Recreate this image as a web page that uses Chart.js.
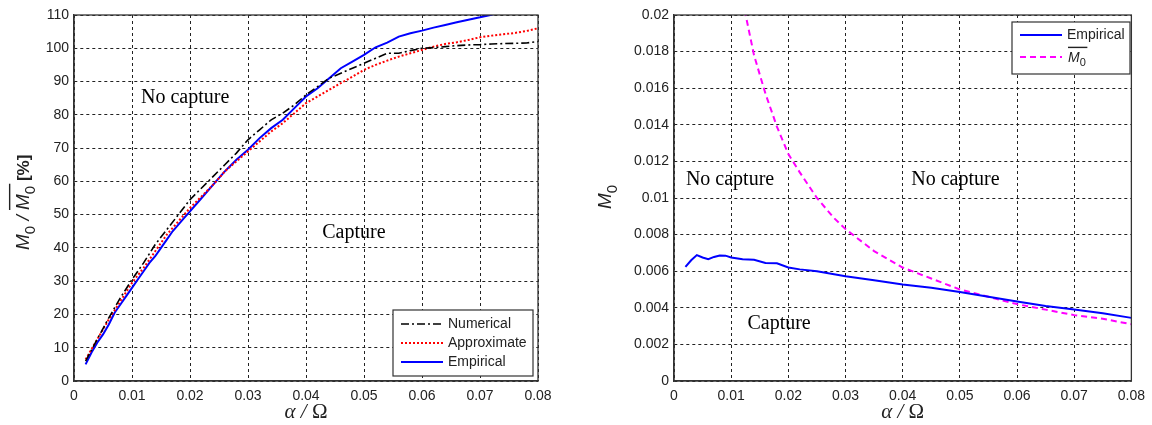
<!DOCTYPE html>
<html><head><meta charset="utf-8">
<script src="https://cdn.jsdelivr.net/npm/chart.js@4"></script>
<style>
html,body{margin:0;padding:0;background:#fff;}
#wrap{position:relative;width:1152px;height:425px;}
#c1{position:absolute;left:0;top:0;}
#c2{position:absolute;left:560px;top:0;}
</style></head>
<body><div id="wrap"><canvas id="c1" width="560" height="425"></canvas><canvas id="c2" width="592" height="425"></canvas></div>
<script>
// ---- data (left panel: M0 / M0bar [%]) ----
const alphaNum = [0.002,0.004,0.006,0.008,0.010,0.012,0.014,0.016,0.018,0.020,0.022,0.024,0.026,0.028,0.030,0.032,0.034,0.036,0.038,0.040,0.042,0.044,0.046,0.048,0.050,0.052,0.054,0.056,0.058,0.060,0.062,0.064,0.066,0.068,0.070,0.072,0.074,0.076,0.078,0.080];
const numerical = [6,12.5,19,25,30.5,35.5,41,45.5,50,54.5,58,61.5,65,68.5,72.5,75.5,78.5,80.5,83,86,88.5,91,92.5,94,95.5,97,98.5,98.5,99.3,100,100.2,100.5,100.8,101,101.1,101.3,101.4,101.5,101.6,102];
const approximate = [6.5,12.5,18.5,24,29.5,34,39,44,48,52,55.5,59,63,66,69,72,75,77.5,80.5,83.5,85.5,87.5,89.5,91.5,93.5,95,96.3,97.5,98.5,99.5,100.5,101.3,101.8,102.5,103.3,103.8,104.2,104.6,105.2,106];
const alphaEmp = [0.002,0.003,0.004,0.005,0.006,0.007,0.008,0.009,0.010,0.011,0.012,0.013,0.014,0.015,0.016,0.017,0.018,0.019,0.020,0.022,0.024,0.026,0.028,0.030,0.032,0.034,0.036,0.038,0.040,0.042,0.044,0.046,0.048,0.050,0.052,0.054,0.056,0.058,0.060,0.062,0.064,0.066,0.068,0.070,0.072,0.074,0.076,0.078,0.080];
const empiricalPct = [5,8.5,11.5,14,17,20.5,23,25.5,28,30.5,33,35.5,37.5,40,42.5,45,47,49,51,55,59,63,66.5,69.5,73,76,78.5,82,85.5,88,91,94,96,98,100.3,101.7,103.5,104.5,105.3,106.2,107,107.8,108.6,109.3,110.1,111,111.7,112.4,113];
const xTicksL = [0,0.01,0.02,0.03,0.04,0.05,0.06,0.07,0.08];
const yTicksL = [0,10,20,30,40,50,60,70,80,90,100,110];
// ---- data (right panel: M0) ----
const alphaEmpR = [0.002,0.003,0.004,0.005,0.006,0.007,0.008,0.009,0.010,0.012,0.014,0.016,0.018,0.020,0.022,0.025,0.030,0.035,0.040,0.045,0.050,0.055,0.060,0.065,0.070,0.075,0.080];
const empiricalM0 = [0.00624,0.0066,0.00688,0.00675,0.00666,0.00678,0.00686,0.00685,0.00675,0.00665,0.00662,0.00645,0.00643,0.0062,0.0061,0.006,0.00572,0.0055,0.00527,0.0051,0.00486,0.0046,0.00435,0.0041,0.00391,0.0037,0.00345];
const alphaMbar = [0.012,0.014,0.016,0.018,0.020,0.022,0.025,0.028,0.030,0.035,0.040,0.045,0.050,0.055,0.060,0.065,0.070,0.075,0.080];
const mbar = [0.0208,0.0178,0.0157,0.0139,0.0124,0.0114,0.0100,0.0089,0.0083,0.0071,0.0062,0.0056,0.0050,0.0046,0.0042,0.0039,0.0036,0.0034,0.0031];
const yTicksR = [0,0.002,0.004,0.006,0.008,0.01,0.012,0.014,0.016,0.018,0.02];

const zip = (xs, ys) => xs.map((x, i) => ({x, y: ys[i]}));
const TICKFONT = {family: 'Arial, "Liberation Sans", sans-serif', size: 14};
const SERIFF = '"Liberation Serif", "Times New Roman", serif';
const SANS = '"Liberation Sans", Arial, sans-serif';

// draws "M" with subscript 0, optionally with overline; returns new x
function drawM0(ctx, x, y, size, bar) {
  ctx.font = 'italic ' + size + 'px ' + SANS;
  ctx.textBaseline = 'alphabetic';
  ctx.fillText('M', x, y);
  const mw = ctx.measureText('M').width;
  if (bar) {
    ctx.fillRect(x, y - size * 0.95 - 2, mw + size * 0.55, 1.4);
  }
  ctx.font = Math.round(size * 0.8) + 'px ' + SANS;
  ctx.fillText('0', x + mw, y + size * 0.3);
  return x + mw + ctx.measureText('0').width;
}

function drawXTitle(ctx, cx, y) {
  const parts = [['italic 21px ' + SERIFF, '\u03B1'], ['italic 21px ' + SERIFF, ' / '], ['21px ' + SERIFF, '\u03A9']];
  let w = 0;
  parts.forEach(p => { ctx.font = p[0]; w += ctx.measureText(p[1]).width; });
  let x = cx - w / 2;
  ctx.textAlign = 'left';
  ctx.textBaseline = 'middle';
  parts.forEach(p => { ctx.font = p[0]; ctx.fillText(p[1], x, y); x += ctx.measureText(p[1]).width; });
}

function framePlugin(cfg) {
  return {
    id: 'frame',
    afterDraw(chart) {
      const {ctx, chartArea: a, scales} = chart;
      ctx.save();
      ctx.strokeStyle = '#333';
      ctx.lineWidth = 1.3;
      ctx.setLineDash([]);
      ctx.strokeRect(a.left, a.top, a.right - a.left, a.bottom - a.top);
      // region labels
      ctx.fillStyle = '#000';
      ctx.font = '20px ' + SERIFF;
      ctx.textBaseline = 'middle';
      ctx.textAlign = 'left';
      cfg.texts.forEach(t => {
        ctx.fillText(t.s, scales.x.getPixelForValue(t.x), scales.y.getPixelForValue(t.y));
      });
      // x title
      ctx.fillStyle = '#222';
      drawXTitle(ctx, (a.left + a.right) / 2, 412);
      // y title
      ctx.save();
      ctx.translate(cfg.yTitleX, (a.top + a.bottom) / 2);
      ctx.rotate(-Math.PI / 2);
      ctx.textAlign = 'left';
      cfg.yTitle(ctx);
      ctx.restore();
      // legend
      const L = cfg.legend;
      ctx.fillStyle = '#fff';
      ctx.fillRect(L.x, L.y, L.w, L.h);
      ctx.strokeStyle = '#333';
      ctx.lineWidth = 1.2;
      ctx.strokeRect(L.x, L.y, L.w, L.h);
      chart.data.datasets.forEach((ds, i) => {
        const yy = L.y + L.rowTop + i * L.rowH;
        ctx.save();
        ctx.strokeStyle = ds.borderColor;
        ctx.lineWidth = ds.borderWidth;
        ctx.setLineDash(ds.borderDash || []);
        ctx.beginPath();
        ctx.moveTo(L.x + 8, yy);
        ctx.lineTo(L.x + 50, yy);
        ctx.stroke();
        ctx.restore();
        ctx.fillStyle = '#222';
        ctx.textAlign = 'left';
        ctx.textBaseline = 'middle';
        if (ds.label === 'Mbar') {
          drawM0(ctx, L.x + 56, yy + 5, 14, true);
        } else {
          ctx.font = '14px ' + SANS;
          ctx.fillText(ds.label, L.x + 55, yy);
        }
      });
      ctx.restore();
    }
  };
}

function axes(xTicks, yMax, yStep, yWidth, fmtY) {
  const grid = {color: '#222', lineWidth: 1, drawTicks: false};
  const border = {display: true, color: '#333', width: 1.3, dash: [3, 3]};
  return {
    x: {type: 'linear', min: 0, max: 0.08,
        afterBuildTicks: s => { s.ticks = xTicks.map(v => ({value: v})); },
        afterFit: s => { s.height = 44; },
        grid, border,
        ticks: {font: TICKFONT, color: '#222', padding: 7,
                callback: v => (+v.toFixed(3)).toString()}},
    y: {type: 'linear', min: 0, max: yMax,
        afterFit: s => { s.width = yWidth; },
        grid, border,
        ticks: {font: TICKFONT, color: '#222', padding: 5, stepSize: yStep,
                callback: fmtY}}
  };
}

const common = {
  responsive: false, animation: false, devicePixelRatio: 1,
  plugins: {legend: {display: false}, tooltip: {enabled: false}},
  elements: {point: {radius: 0}, line: {tension: 0}}
};

new Chart(document.getElementById('c1'), {
  type: 'line',
  data: {datasets: [
    {label: 'Numerical', data: zip(alphaNum, numerical), borderColor: '#000', borderWidth: 1.6, borderDash: [8, 3, 2, 3], fill: false},
    {label: 'Approximate', data: zip(alphaNum, approximate), borderColor: '#ff0000', borderWidth: 2, borderDash: [2, 2], fill: false},
    {label: 'Empirical', data: zip(alphaEmp, empiricalPct), borderColor: '#0000ff', borderWidth: 2, fill: false}
  ]},
  options: Object.assign({}, common, {
    layout: {padding: {top: 15, right: 22, left: 0, bottom: 0}},
    scales: axes(xTicksL, 110, 10, 74, v => (+v.toFixed(0)).toString())
  }),
  plugins: [framePlugin({
    texts: [{s: 'No capture', x: 0.01155, y: 85}, {s: 'Capture', x: 0.0428, y: 44.5}],
    yTitleX: 29,
    yTitle: ctx => {
      ctx.fillStyle = '#222';
      let x = -52;
      x = drawM0(ctx, x, 0, 19, false);
      ctx.font = 'italic 19px ' + SANS;
      ctx.fillText(' / ', x, 0); x += ctx.measureText(' / ').width;
      x = drawM0(ctx, x, 0, 19, true);
      ctx.font = 'bold 17px ' + SANS;
      ctx.fillText(' [%]', x, 0);
    },
    legend: {x: 393, y: 310, w: 140, h: 66, rowTop: 14, rowH: 19}
  })]
});

new Chart(document.getElementById('c2'), {
  type: 'line',
  data: {datasets: [
    {label: 'Empirical', data: zip(alphaEmpR, empiricalM0), borderColor: '#0000ff', borderWidth: 2, fill: false},
    {label: 'Mbar', data: zip(alphaMbar, mbar), borderColor: '#ff00ff', borderWidth: 2, borderDash: [6, 4], fill: false}
  ]},
  options: Object.assign({}, common, {
    layout: {padding: {top: 15, right: 17, left: 0, bottom: 0}},
    scales: axes(xTicksL, 0.02, 0.002, 114, v => (+v.toFixed(3)).toString())
  }),
  plugins: [framePlugin({
    texts: [{s: 'No capture', x: 0.00208, y: 0.011}, {s: 'No capture', x: 0.0415, y: 0.011}, {s: 'Capture', x: 0.01284, y: 0.00311}],
    yTitleX: 51,
    yTitle: ctx => { ctx.fillStyle = '#222'; drawM0(ctx, -11, 0, 19, false); },
    legend: {x: 452, y: 22, w: 118, h: 52, rowTop: 13, rowH: 22}
  })]
});
</script>
</body></html>
